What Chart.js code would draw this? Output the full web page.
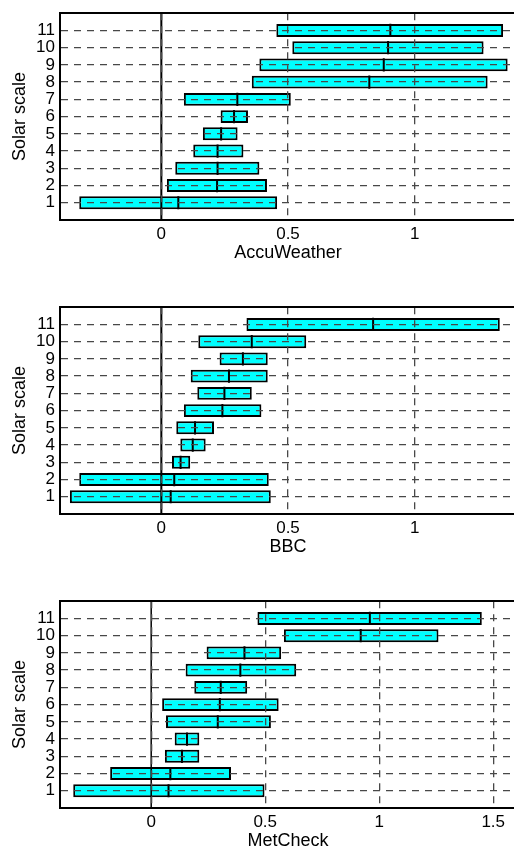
<!DOCTYPE html>
<html>
<head>
<meta charset="utf-8">
<script src="https://cdn.jsdelivr.net/npm/chart.js@4"></script>
<style>
  html,body{margin:0;padding:0;background:#fff;overflow:hidden;}
  #wrap{position:relative;width:514px;height:850px;overflow:hidden;}
  .panel{position:absolute;left:0;}
</style>
</head>
<body>
<div id="wrap">
  <canvas id="c1" class="panel" width="516" height="282" style="top:-2px"></canvas>
  <canvas id="c2" class="panel" width="516" height="282" style="top:292px"></canvas>
  <canvas id="c3" class="panel" width="516" height="282" style="top:586px"></canvas>
</div>
<script>
const solarScale = [1,2,3,4,5,6,7,8,9,10,11];
const yTicks = [1,2,3,4,5,6,7,8,9,10,11];

// AccuWeather
const accuLow  = [-0.324, 0.022, 0.055, 0.126, 0.164, 0.234, 0.089, 0.357, 0.387, 0.517, 0.454];
const accuMed  = [ 0.067, 0.220, 0.222, 0.222, 0.236, 0.287, 0.300, 0.821, 0.878, 0.895, 0.904];
const accuHigh = [ 0.457, 0.417, 0.387, 0.324, 0.301, 0.342, 0.511, 1.288, 1.367, 1.272, 1.349];
// BBC
const bbcLow  = [-0.361,-0.324, 0.042, 0.075, 0.059, 0.089, 0.142, 0.116, 0.230, 0.146, 0.336];
const bbcMed  = [ 0.037, 0.051, 0.076, 0.124, 0.133, 0.241, 0.249, 0.267, 0.322, 0.357, 0.836];
const bbcHigh = [ 0.432, 0.424, 0.114, 0.175, 0.208, 0.395, 0.357, 0.420, 0.420, 0.572, 1.336];
// MetCheck
const metLow  = [-0.342,-0.180, 0.060, 0.103, 0.065, 0.048, 0.189, 0.151, 0.243, 0.582, 0.466];
const metMed  = [ 0.076, 0.084, 0.135, 0.157, 0.292, 0.301, 0.305, 0.391, 0.409, 0.919, 0.959];
const metHigh = [ 0.497, 0.350, 0.211, 0.211, 0.525, 0.559, 0.421, 0.636, 0.570, 1.260, 1.450];

const xTicksAccu = [0, 0.5, 1];
const xTicksBbc  = [0, 0.5, 1];
const xTicksMet  = [0, 0.5, 1, 1.5];
const zeroRef = 0;

const TICK_FONT = {family: '"Liberation Sans", Arial, Helvetica, sans-serif', size: 17};
const TITLE_FONT = {family: '"Liberation Sans", Arial, Helvetica, sans-serif', size: 18};
Chart.defaults.color = '#000';

function makePanel(id, title, low, med, high, xMin, xMax, xTicks, zeroWidth){
  const boxes = solarScale.map((s,i) => ({y: s, x: [low[i], high[i]]}));
  const medians = solarScale.map((s,i) => ({x: med[i], y: s}));
  new Chart(document.getElementById(id), {
    type: 'bar',
    data: {
      datasets: [
        {
          type: 'bar', indexAxis: 'y', data: boxes,
          backgroundColor: '#00ffff', borderColor: '#000', borderWidth: 2, borderSkipped: false,
          barPercentage: 0.75, categoryPercentage: 1, order: 3
        },
        {
          type: 'scatter', data: medians,
          pointStyle: 'line', rotation: 90, radius: 6.6, borderColor: '#000', borderWidth: 2, order: 2
        },
        {
          type: 'line', data: [{x: zeroRef, y: 0}, {x: zeroRef, y: 12}],
          borderColor: '#000', borderWidth: zeroWidth, pointRadius: 0, order: 1
        }
      ]
    },
    options: {
      responsive: false, animation: false, events: [],
      layout: {autoPadding: false, padding: {top: 10, left: 0, right: 0, bottom: 0}},
      plugins: {legend: {display: false}, tooltip: {enabled: false}},
      scales: {
        x: {
          type: 'linear', position: 'bottom', min: xMin, max: xMax, offset: false,
          afterBuildTicks: s => { s.ticks = xTicks.map(v => ({value: v})); },
          afterFit: s => { s.height = 60; },
          ticks: {font: TICK_FONT, padding: 4, callback: v => String(v), maxRotation: 0, autoSkip: false},
          grid: {offset: false, color: '#484848', lineWidth: 1.3, drawTicks: false, z: 1},
          border: {color: '#000', width: 2, dash: [7, 6], z: 2},
          title: {display: true, text: title, font: TITLE_FONT, padding: {top: 0, bottom: 16}}
        },
        x2: {
          type: 'linear', position: 'top', min: xMin, max: xMax, offset: false,
          afterFit: s => { s.height = 0; },
          ticks: {display: false},
          grid: {offset: false, display: true, color: 'rgba(0,0,0,0)', drawTicks: false, z: 1},
          border: {color: '#000', width: 2, z: 2}
        },
        y: {
          type: 'linear', min: 0, max: 12, offset: false,
          afterBuildTicks: s => { s.ticks = yTicks.map(v => ({value: v})); },
          afterFit: s => { s.width = 60; },
          ticks: {font: TICK_FONT, padding: 5, callback: v => String(v), autoSkip: false},
          grid: {offset: false, color: '#484848', lineWidth: 1.3, drawTicks: false, z: 1},
          border: {color: '#000', width: 2, dash: [7, 6], z: 2},
          title: {display: true, text: 'Solar scale', font: TITLE_FONT, padding: {top: 9, bottom: 0}}
        }
      }
    }
  });
}

makePanel('c1', 'AccuWeather', accuLow, accuMed, accuHigh, -0.4, 1.4, xTicksAccu, 2);
makePanel('c2', 'BBC', bbcLow, bbcMed, bbcHigh, -0.4, 1.4, xTicksBbc, 2);
makePanel('c3', 'MetCheck', metLow, metMed, metHigh, -0.4, 1.6, xTicksMet, 1.5);
</script>
</body>
</html>
